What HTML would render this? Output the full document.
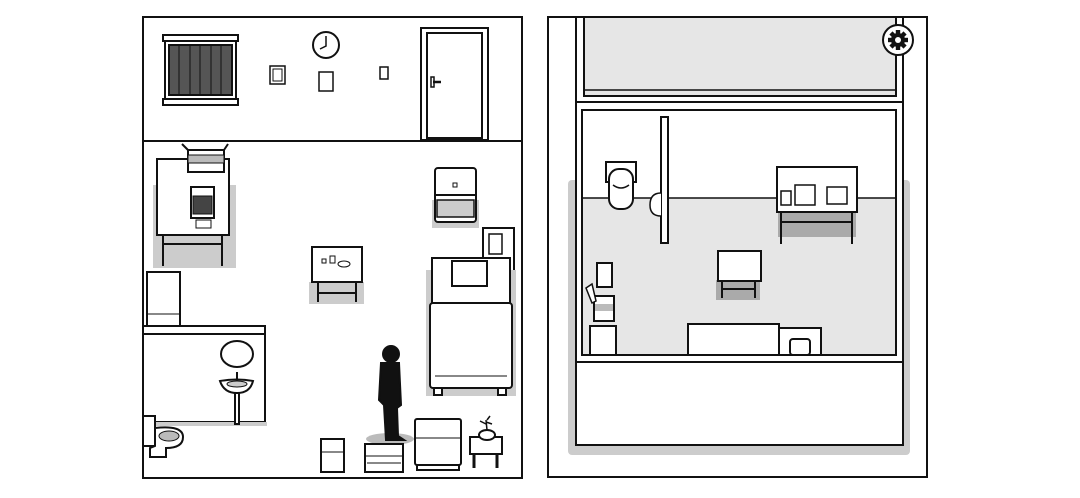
<!DOCTYPE html><html><head><style>html,body{margin:0;padding:0;background:#fff}svg{display:block}</style></head><body>
<svg width="1080" height="498" viewBox="0 0 1080 498" xmlns="http://www.w3.org/2000/svg" fill="#fff" stroke="#111" stroke-width="2">
<!-- LEFT PANEL -->
<rect x="143" y="17" width="379" height="461"/>
<line x1="143" y1="141" x2="522" y2="141"/>
<!-- window -->
<rect x="163" y="35" width="75" height="6"/>
<rect x="165" y="41" width="71" height="58"/>
<rect x="169" y="45" width="63" height="50" fill="#555"/>
<g stroke-width="1"><line x1="179" y1="45" x2="179" y2="95"/><line x1="190" y1="45" x2="190" y2="95"/><line x1="200" y1="45" x2="200" y2="95"/><line x1="211" y1="45" x2="211" y2="95"/><line x1="221" y1="45" x2="221" y2="95"/></g>
<rect x="163" y="99" width="75" height="6"/>
<!-- clock -->
<circle cx="326" cy="45" r="13"/><polyline points="326,36 326,46 320,49" fill="none" stroke-width="1.5"/>
<rect x="270" y="66" width="15" height="18" stroke-width="1.5"/><rect x="273" y="69" width="9" height="12" stroke-width="1"/>
<rect x="319" y="72" width="14" height="19" stroke-width="1.5"/>
<rect x="380" y="67" width="8" height="12" stroke-width="1.5"/>
<!-- door -->
<rect x="421" y="28" width="67" height="112"/><rect x="427" y="33" width="55" height="105"/>
<rect x="431" y="77" width="3" height="10" stroke-width="1.5"/><line x1="433" y1="82" x2="441" y2="82" stroke-width="2.5"/>
<!-- kitchen counter -->
<rect x="153" y="185" width="83" height="83" fill="#ccc" stroke="none"/>
<rect x="157" y="159" width="72" height="76"/>
<line x1="163" y1="235" x2="163" y2="266"/><line x1="222" y1="235" x2="222" y2="266"/>
<line x1="163" y1="244" x2="222" y2="244"/>
<polygon points="188,150 188,172 224,172 224,150" /><rect x="188" y="155" width="36" height="8" fill="#bbb" stroke-width="1"/>
<line x1="188" y1="150" x2="182" y2="144"/><line x1="224" y1="150" x2="228" y2="144"/>
<rect x="191" y="187" width="23" height="31"/><rect x="193" y="196" width="19" height="18" fill="#444" stroke-width="1"/>
<rect x="196" y="220" width="15" height="8" stroke-width="1"/>
<!-- drawer cabinet -->
<rect x="432" y="200" width="47" height="28" fill="#ccc" stroke="none"/>
<rect x="435" y="168" width="41" height="54" rx="3"/><line x1="435" y1="195" x2="476" y2="195"/><rect x="437" y="200" width="37" height="17" fill="#ccc" stroke-width="1.5"/>
<rect x="453" y="183" width="4" height="4" stroke-width="1"/>
<!-- picture -->
<rect x="483" y="228" width="31" height="44"/><rect x="489" y="234" width="13" height="20" stroke-width="1.5"/>
<!-- small table -->
<rect x="309" y="282" width="55" height="22" fill="#ccc" stroke="none"/>
<rect x="312" y="247" width="50" height="35"/>
<line x1="318" y1="282" x2="318" y2="302"/><line x1="356" y1="282" x2="356" y2="302"/><line x1="318" y1="293" x2="356" y2="293"/>
<rect x="322" y="259" width="4" height="4" stroke-width="1"/><rect x="330" y="256" width="5" height="7" stroke-width="1"/><ellipse cx="344" cy="264" rx="6" ry="3" stroke-width="1"/>
<!-- bed -->
<rect x="426" y="270" width="90" height="126" fill="#ccc" stroke="none"/>
<rect x="432" y="258" width="78" height="50"/><rect x="452" y="261" width="35" height="25"/>
<rect x="430" y="303" width="82" height="85" rx="3"/><line x1="435" y1="376" x2="507" y2="376" stroke-width="1"/>
<rect x="434" y="388" width="8" height="7"/><rect x="498" y="388" width="8" height="7"/>
<!-- fridge -->
<rect x="147" y="272" width="33" height="54"/><line x1="147" y1="314" x2="180" y2="314" stroke-width="1"/>
<!-- bathroom -->
<rect x="143" y="326" width="122" height="96" fill="#fff"/><line x1="143" y1="334" x2="265" y2="334"/>
<rect x="143" y="422" width="124" height="4" fill="#ccc" stroke="none"/>
<ellipse cx="237" cy="354" rx="16" ry="13"/>
<path d="M220,381 Q237,378 253,381 Q250,393 237,393 Q224,393 220,381Z"/><ellipse cx="237" cy="384" rx="10" ry="3" fill="#ccc" stroke-width="1"/>
<rect x="235" y="393" width="4" height="31"/><line x1="237" y1="372" x2="237" y2="379"/>
<!-- toilet -->
<rect x="143" y="416" width="12" height="30"/><path d="M155,428 Q183,425 183,437 Q183,448 166,448 L166,457 L150,457 L150,448 L155,446Z"/><ellipse cx="169" cy="436" rx="10" ry="5" fill="#bbb" stroke-width="1"/>
<!-- person -->
<ellipse cx="390" cy="439" rx="24" ry="6" fill="#bbb" stroke="none"/>
<circle cx="391" cy="354" r="8" fill="#111"/>
<path d="M381,363 L399,363 L401,405 L397,408 L398,436 L404,440 L386,440 L384,405 L379,400Z" fill="#111"/>
<!-- step box -->
<rect x="365" y="444" width="38" height="28"/><line x1="365" y1="456" x2="403" y2="456" stroke-width="1"/><line x1="367" y1="463" x2="401" y2="463" stroke="#888" stroke-width="2"/>
<!-- cabinet -->
<rect x="415" y="419" width="46" height="46" rx="2"/><line x1="415" y1="438" x2="461" y2="438" stroke-width="1"/><rect x="417" y="465" width="42" height="5"/>
<!-- plant table -->
<rect x="470" y="437" width="32" height="17"/><line x1="474" y1="454" x2="474" y2="468" stroke-width="3"/><line x1="497" y1="454" x2="497" y2="468" stroke-width="3"/>
<ellipse cx="487" cy="435" rx="8" ry="5"/><path d="M487,430 L486,420 M486,424 L480,421 M486,422 L492,424 M487,420 L490,416" stroke-width="1.5" fill="none"/>
<!-- bin -->
<rect x="321" y="439" width="23" height="33"/><line x1="321" y1="452" x2="344" y2="452" stroke-width="1"/>

<!-- RIGHT PANEL -->
<rect x="548" y="17" width="379" height="460"/>
<rect x="568" y="180" width="342" height="275" rx="4" fill="#ccc" stroke="none"/>
<rect x="576" y="17" width="327" height="428"/>
<rect x="584" y="17" width="312" height="79" fill="#e6e6e6"/><line x1="584" y1="90" x2="896" y2="90" stroke-width="1.5"/>
<line x1="576" y1="102" x2="903" y2="102"/>
<line x1="576" y1="362" x2="903" y2="362"/>
<rect x="582" y="110" width="314" height="245" fill="#fff"/>
<rect x="583" y="198" width="312" height="156" fill="#e6e6e6" stroke="none"/>
<line x1="582" y1="198" x2="896" y2="198" stroke-width="1.5"/>
<!-- toilet right -->
<rect x="606" y="162" width="30" height="20"/><rect x="609" y="169" width="24" height="40" rx="10"/><path d="M613,185 Q621,191 629,185" fill="none" stroke-width="1.5"/>
<!-- partition -->
<rect x="661" y="117" width="7" height="126"/>
<path d="M661,193 Q650,193 650,205 Q650,216 661,216" stroke-width="1.5"/>
<!-- desk -->
<rect x="778" y="200" width="78" height="37" fill="#aaa" stroke="none"/>
<rect x="777" y="167" width="80" height="45"/>
<line x1="781" y1="212" x2="781" y2="244"/><line x1="852" y1="212" x2="852" y2="244"/><line x1="781" y1="222" x2="852" y2="222"/>
<rect x="781" y="191" width="10" height="14" stroke-width="1.5"/><rect x="795" y="185" width="20" height="20" stroke-width="1.5"/><rect x="827" y="187" width="20" height="17" stroke-width="1.5"/>
<!-- small table right -->
<rect x="716" y="280" width="44" height="20" fill="#aaa" stroke="none"/>
<rect x="718" y="251" width="43" height="30"/>
<line x1="722" y1="281" x2="722" y2="298"/><line x1="755" y1="281" x2="755" y2="298"/><line x1="722" y1="289" x2="755" y2="289"/>
<!-- left items -->
<rect x="597" y="263" width="15" height="24"/>
<rect x="594" y="296" width="20" height="25"/><rect x="595" y="304" width="18" height="7" fill="#bbb" stroke="none"/>
<path d="M586,288 L592,284 L596,301 L592,303Z" stroke-width="1.5"/>
<rect x="590" y="326" width="26" height="29"/>
<!-- bed right -->
<rect x="688" y="324" width="91" height="31"/>
<rect x="779" y="328" width="42" height="27"/><rect x="790" y="339" width="20" height="16" rx="3"/>
<!-- gear -->
<circle cx="898" cy="40" r="15"/>
<g transform="translate(898,40)" fill="#111" stroke="none">
<circle r="7"/>
<g><rect x="-2.2" y="-10" width="4.4" height="20"/><rect x="-2.2" y="-10" width="4.4" height="20" transform="rotate(45)"/><rect x="-2.2" y="-10" width="4.4" height="20" transform="rotate(90)"/><rect x="-2.2" y="-10" width="4.4" height="20" transform="rotate(135)"/></g>
<circle r="3" fill="#fff"/></g>
</svg>
</body></html>
